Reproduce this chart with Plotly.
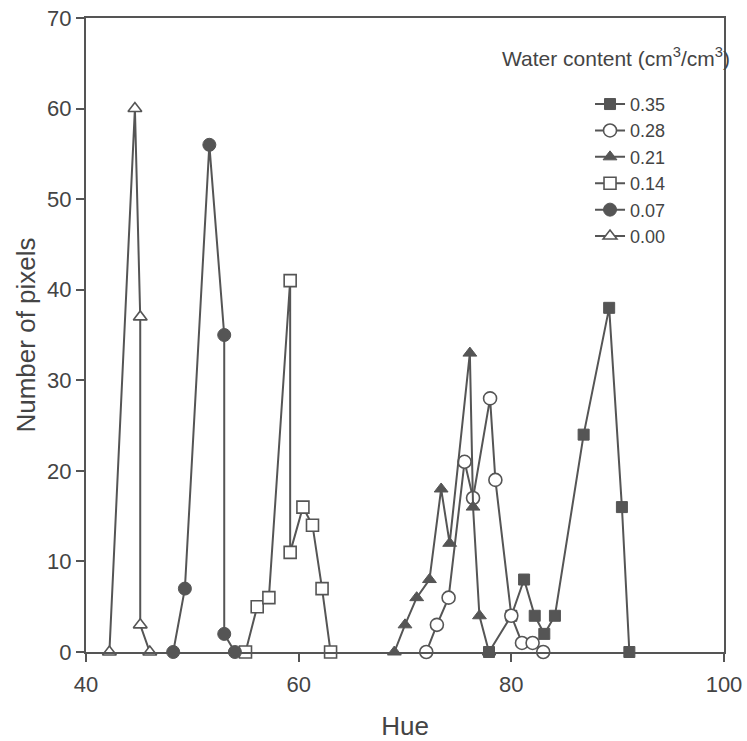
import plotly.graph_objects as go

# Data (Hue vs Number of pixels)
hue_035 = [77.9, 80.0, 81.2, 82.2, 83.1, 84.1, 86.8, 89.2, 90.4, 91.1]
px_035 = [0, 4, 8, 4, 2, 4, 24, 38, 16, 0]

hue_028 = [72.0, 73.0, 74.1, 75.6, 76.4, 78.0, 78.5, 80.0, 81.0, 82.0, 83.0]
px_028 = [0, 3, 6, 21, 17, 28, 19, 4, 1, 1, 0]

hue_021 = [69.0, 70.0, 71.1, 72.3, 73.4, 74.2, 76.1, 76.4, 77.0, 77.9]
px_021 = [0, 3, 6, 8, 18, 12, 33, 16, 4, 0]

hue_014 = [55.0, 56.1, 57.2, 59.2, 59.2, 60.4, 61.3, 62.2, 63.0]
px_014 = [0, 5, 6, 41, 11, 16, 14, 7, 0]

hue_007 = [48.2, 49.3, 51.6, 53.0, 53.0, 54.0]
px_007 = [0, 7, 56, 35, 2, 0]

hue_000 = [42.2, 44.6, 45.1, 45.1, 46.0]
px_000 = [0, 60, 37, 3, 0]

series_names = ["0.35", "0.28", "0.21", "0.14", "0.07", "0.00"]
x_ticks = [40, 60, 80, 100]
y_ticks = [0, 10, 20, 30, 40, 50, 60, 70]

GRAY = "#555555"
TXT = "#444444"
FONT = "Liberation Sans, Arial, sans-serif"

styles = [
    dict(symbol="square", size=11, color=GRAY, line=dict(color=GRAY, width=1)),
    dict(symbol="circle", size=13, color="white", line=dict(color=GRAY, width=1.6)),
    dict(symbol="triangle-up", size=12, color=GRAY, line=dict(color=GRAY, width=1)),
    dict(symbol="square", size=12, color="white", line=dict(color=GRAY, width=1.6)),
    dict(symbol="circle", size=13, color=GRAY, line=dict(color=GRAY, width=1)),
    dict(symbol="triangle-up", size=12, color="white", line=dict(color=GRAY, width=1.6)),
]

xs = [hue_035, hue_028, hue_021, hue_014, hue_007, hue_000]
ys = [px_035, px_028, px_021, px_014, px_007, px_000]

fig = go.Figure()
for name, x, y, st in zip(series_names, xs, ys, styles):
    fig.add_trace(go.Scatter(
        x=x, y=y, name=name, mode="lines+markers",
        line=dict(color=GRAY, width=2),
        marker=st, cliponaxis=False,
    ))

fig.update_layout(
    width=747, height=741,
    margin=dict(l=86, r=23, t=18, b=89),
    paper_bgcolor="white", plot_bgcolor="white",
    font=dict(family=FONT, color=TXT, size=22),
    showlegend=True,
    legend=dict(
        x=0.79, y=0.893, xanchor="left", yanchor="top",
        font=dict(family=FONT, size=18, color=TXT),
        bgcolor="rgba(0,0,0,0)", tracegroupgap=0,
    ),
    annotations=[dict(
        text="Water content (cm<sup>3</sup>/cm<sup>3</sup>)",
        xref="paper", yref="paper", x=1.012, y=0.938,
        xanchor="right", yanchor="middle", showarrow=False,
        font=dict(family=FONT, size=21, color=TXT),
    )],
)

fig.update_xaxes(
    range=[40, 100], tickvals=x_ticks, ticks="outside", ticklen=8,
    tickwidth=1.5, tickcolor=GRAY, showline=True, linecolor=GRAY,
    linewidth=2, mirror=True, showgrid=False, zeroline=False,
    automargin=False,
    tickfont=dict(size=22, color=TXT), ticklabelstandoff=4,
    title=dict(text="Hue", font=dict(size=26, color=TXT), standoff=20),
)
fig.update_yaxes(
    range=[0, 70], tickvals=y_ticks, ticks="outside", ticklen=8,
    tickwidth=1.5, tickcolor=GRAY, showline=True, linecolor=GRAY,
    linewidth=2, mirror=True, showgrid=False, zeroline=False,
    automargin=False,
    tickfont=dict(size=22, color=TXT),
    title=dict(text="Number of pixels", font=dict(size=26, color=TXT), standoff=4),
)

fig.write_html("out.html")
